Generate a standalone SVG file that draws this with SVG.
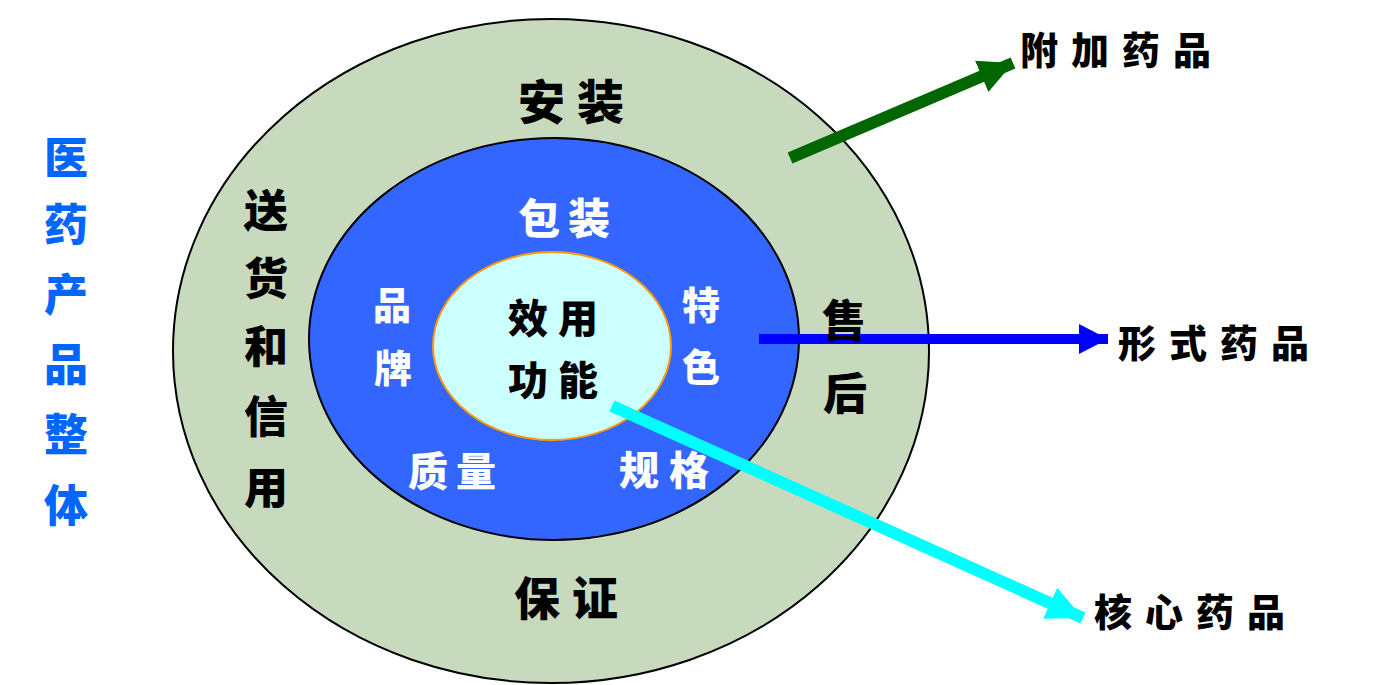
<svg xmlns="http://www.w3.org/2000/svg" width="1377" height="685" viewBox="0 0 1377 685">
<style>
text{font-family:"Noto Sans CJK SC","Noto Sans CJK TC",sans-serif;font-weight:900;text-anchor:middle;dominant-baseline:central}
.k{fill:#000}
.w{fill:#fff}
.b{fill:#0066ff}
</style>
<defs>
<marker id="hg" markerUnits="userSpaceOnUse" markerWidth="36" markerHeight="34" refX="34" refY="17" orient="auto"><path d="M0,0 L34,17 L0,34 Z" fill="#006600"/></marker>
<marker id="hb" markerUnits="userSpaceOnUse" markerWidth="31" markerHeight="32" refX="29" refY="16" orient="auto"><path d="M0,1 L29,16 L0,31 Z" fill="#0000ff"/></marker>
<marker id="hc" markerUnits="userSpaceOnUse" markerWidth="38" markerHeight="34" refX="36" refY="17" orient="auto"><path d="M0,0 L36,17 L0,34 Z" fill="#00ffff"/></marker>
</defs>
<rect width="1377" height="685" fill="#fff"/>
<g id="outer"><ellipse cx="551" cy="351" rx="378" ry="332" fill="#c7dabe" stroke="#000" stroke-width="2"/></g>
<g id="middle"><ellipse cx="554" cy="339" rx="245" ry="201" fill="#3366ff" stroke="#000" stroke-width="2"/></g>
<g id="inner"><ellipse cx="552" cy="346" rx="119" ry="94" fill="#ccffff" stroke="#ff9900" stroke-width="2"/></g>
<g id="connectors">
<line x1="790" y1="158" x2="1013" y2="63" stroke="#006600" stroke-width="12" marker-end="url(#hg)"/>
<line x1="759" y1="339" x2="1108" y2="339" stroke="#0000ff" stroke-width="10" marker-end="url(#hb)"/>
<line x1="612" y1="406" x2="1083" y2="618" stroke="#00ffff" stroke-width="12" marker-end="url(#hc)"/>
</g>
<g id="title"><text class="b" font-size="44" x="66" y="155">医</text><text class="b" font-size="44" x="66" y="222">药</text><text class="b" font-size="44" x="66" y="292">产</text><text class="b" font-size="44" x="66" y="362">品</text><text class="b" font-size="44" x="66" y="432">整</text><text class="b" font-size="44" x="66" y="503">体</text></g>
<g id="anzhuang"><text class="k" font-size="47" x="577" y="98" letter-spacing="12">安装</text></g>
<g id="songhuo"><text class="k" font-size="44" x="266" y="208">送</text><text class="k" font-size="44" x="266" y="276">货</text><text class="k" font-size="44" x="266" y="344">和</text><text class="k" font-size="44" x="266" y="414">信</text><text class="k" font-size="44" x="266" y="485">用</text></g>
<g id="shouhou"><text class="k" font-size="44" x="844" y="318">售</text><text class="k" font-size="44" x="845" y="391">后</text></g>
<g id="baozheng"><text class="k" font-size="46" x="572" y="595" letter-spacing="12">保证</text></g>
<g id="baozhuang"><text class="w" font-size="42" x="568" y="215" letter-spacing="8">包装</text></g>
<g id="pinpai"><text class="w" font-size="38" x="392" y="302">品</text><text class="w" font-size="38" x="393" y="365">牌</text></g>
<g id="tese"><text class="w" font-size="38" x="701" y="302">特</text><text class="w" font-size="38" x="701" y="364">色</text></g>
<g id="zhiliang"><text class="w" font-size="40" x="456" y="469" letter-spacing="8">质量</text></g>
<g id="guige"><text class="w" font-size="40" x="669" y="468" letter-spacing="10">规格</text></g>
<g id="core"><text class="k" font-size="40" x="558" y="316" letter-spacing="10">效用</text><text class="k" font-size="40" x="558" y="378" letter-spacing="10">功能</text></g>
<g id="fujia"><text class="k" font-size="38" x="1122" y="47" letter-spacing="13">附加药品</text></g>
<g id="xingshi"><text class="k" font-size="38" x="1220" y="340" letter-spacing="13">形式药品</text></g>
<g id="hexin"><text class="k" font-size="38" x="1196" y="609" letter-spacing="13">核心药品</text></g>
</svg>
